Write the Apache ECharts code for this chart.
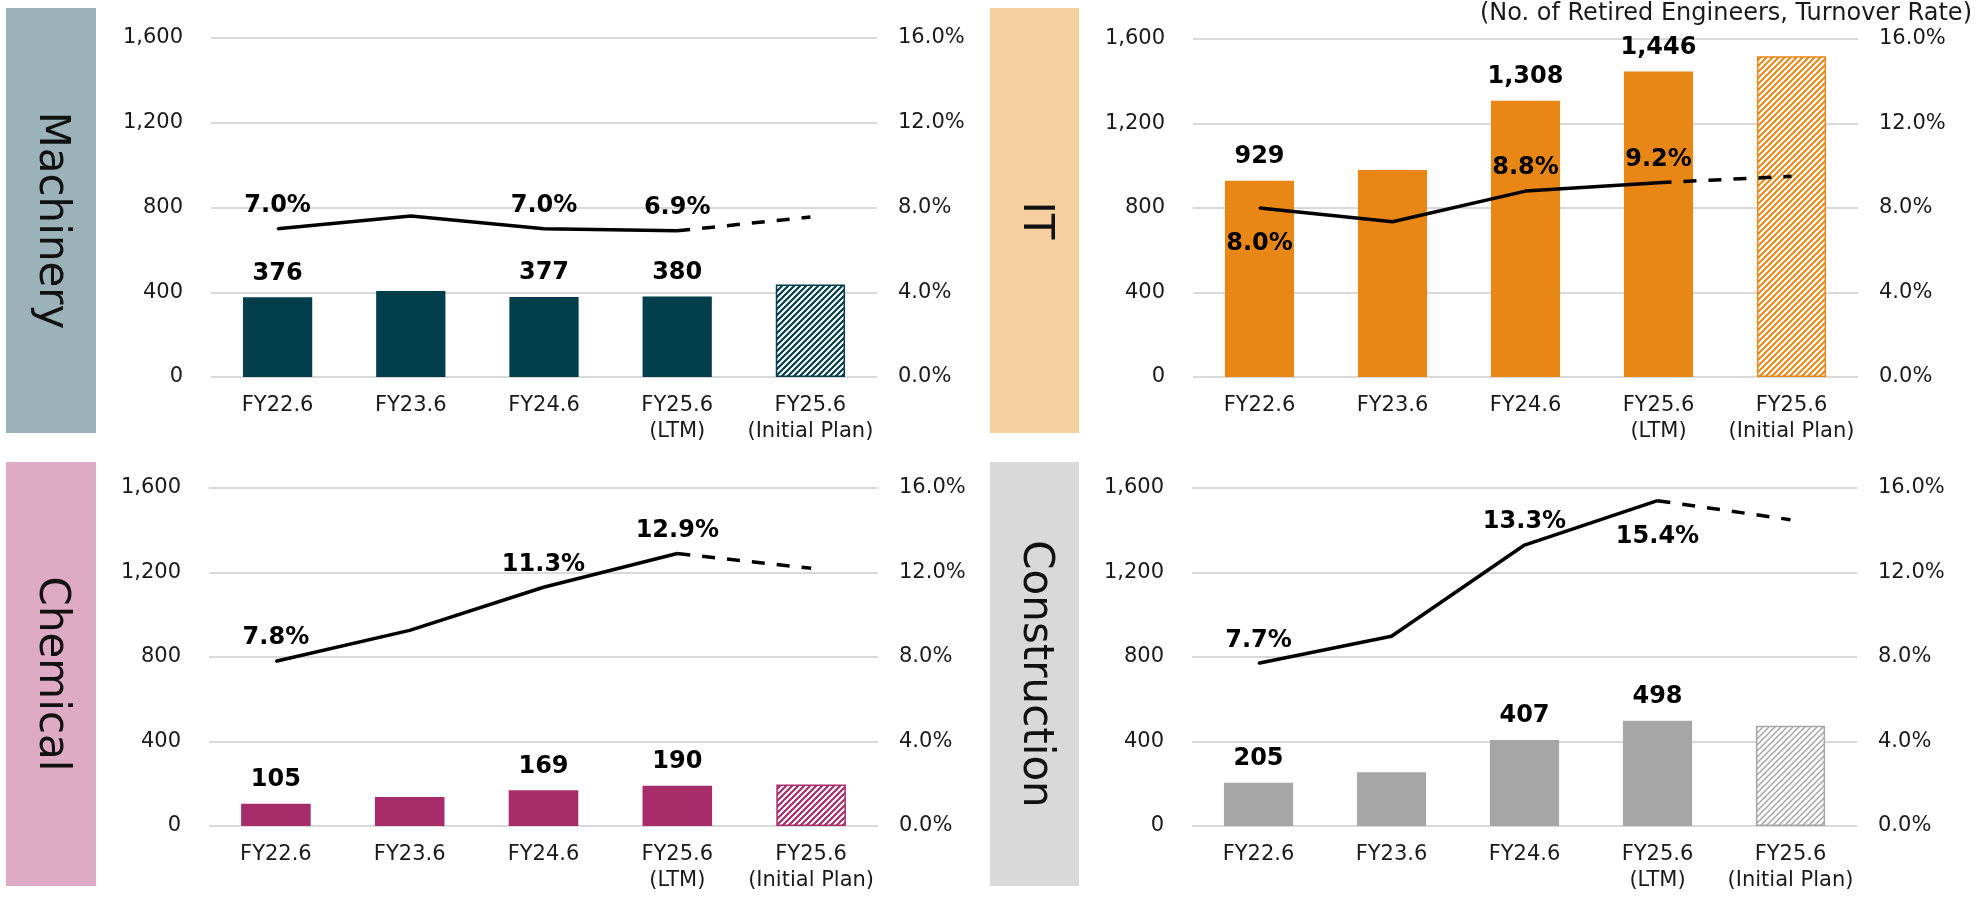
<!DOCTYPE html>
<html>
<head>
<meta charset="utf-8">
<script src="https://cdn.jsdelivr.net/npm/echarts@6/dist/echarts.min.js"></script>
<style>
  html, body { margin: 0; padding: 0; background: #fff; }
  #chart { width: 1985px; height: 898px; }
</style>
</head>
<body>
<div id="chart"></div>
<script>
var categories = ['FY22.6', 'FY23.6', 'FY24.6', 'FY25.6\n(LTM)', 'FY25.6\n(Initial Plan)'];
var countTicks = [0, 400, 800, 1200, 1600];
var rateTicks = [0, 4, 8, 12, 16];

var machineryRetired = [376, 406, 377, 380, 437];
var machineryRate = [7.0, 7.6, 7.0, 6.9, 7.55];
var itRetired = [929, 980, 1308, 1446, 1518];
var itRate = [8.0, 7.35, 8.8, 9.2, 9.5];
var chemicalRetired = [105, 137, 169, 190, 197];
var chemicalRate = [7.8, 9.26, 11.3, 12.9, 12.2];
var constructionRetired = [205, 255, 407, 498, 475];
var constructionRate = [7.7, 8.98, 13.3, 15.4, 14.5];

var labelled = [0, 2, 3];
var FONT = '"DejaVu Sans", Verdana, sans-serif';

function hatch(color, width) {
    var c = document.createElement('canvas');
    c.width = 6; c.height = 6;
    var ctx = c.getContext('2d');
    ctx.fillStyle = '#fff';
    ctx.fillRect(0, 0, 6, 6);
    ctx.strokeStyle = color;
    ctx.lineWidth = width;
    ctx.beginPath();
    ctx.moveTo(-1, 7); ctx.lineTo(7, -1);
    ctx.moveTo(-4, 4); ctx.lineTo(4, -4);
    ctx.moveTo(2, 10); ctx.lineTo(10, 2);
    ctx.stroke();
    return { image: c, repeat: 'repeat' };
}

var panels = [
    { name: 'Machinery', retired: machineryRetired, rate: machineryRate,
      bar: '#023F4A', box: '#9BB3B8', hatchW: 2.2,
      grid: { left: 211, top: 38, width: 666, height: 339 },
      rect: [6, 8, 90, 425], ratePos: ['top', 'top', 'top'] },
    { name: 'IT', retired: itRetired, rate: itRate,
      bar: '#E98716', box: '#F5CF9F', hatchW: 2,
      grid: { left: 1193, top: 39, width: 665, height: 338 },
      rect: [990, 8, 89, 425], ratePos: ['bottom', 'top', 'top'] },
    { name: 'Chemical', retired: chemicalRetired, rate: chemicalRate,
      bar: '#A72C69', box: '#DEAAC4', hatchW: 2.2,
      grid: { left: 209, top: 488, width: 669, height: 338 },
      rect: [6, 462, 90, 424], ratePos: ['top', 'top', 'top'] },
    { name: 'Construction', retired: constructionRetired, rate: constructionRate,
      bar: '#A6A6A6', box: '#D9D9D9', hatchW: 1.5,
      grid: { left: 1192, top: 488, width: 665, height: 338 },
      rect: [990, 462, 89, 424], ratePos: ['top', 'top', 'bottom'] }
];

var grids = [], xAxes = [], yAxes = [], series = [], graphics = [];

panels.forEach(function (p, k) {
    grids.push(p.grid);
    xAxes.push({
        type: 'category', gridIndex: k, data: categories,
        axisLine: { show: false }, axisTick: { show: false },
        axisLabel: { color: '#1a1a1a', fontFamily: FONT, fontSize: 21, lineHeight: 26, margin: 16, interval: 0 }
    });
    yAxes.push({
        type: 'value', gridIndex: k, min: countTicks[0], max: countTicks[countTicks.length - 1], interval: countTicks[1] - countTicks[0],
        axisLine: { show: false }, axisTick: { show: false },
        splitLine: { lineStyle: { color: '#D9D9D9', width: 2 } },
        axisLabel: { color: '#1a1a1a', fontFamily: FONT, fontSize: 21, margin: 28,
            formatter: function (v) { return v.toLocaleString('en-US'); } }
    });
    yAxes.push({
        type: 'value', gridIndex: k, position: 'right', min: rateTicks[0], max: rateTicks[rateTicks.length - 1], interval: rateTicks[1] - rateTicks[0],
        axisLine: { show: false }, axisTick: { show: false }, splitLine: { show: false },
        axisLabel: { color: '#1a1a1a', fontFamily: FONT, fontSize: 21, margin: 21,
            formatter: function (v) { return v.toFixed(1) + '%'; } }
    });

    var last = p.retired.length - 1;
    series.push({
        type: 'bar', xAxisIndex: k, yAxisIndex: 2 * k, barWidth: '52%',
        itemStyle: { color: p.bar },
        data: p.retired.map(function (v, i) {
            var item = { value: v };
            if (labelled.indexOf(i) >= 0) {
                item.label = { show: true, position: 'top', distance: 12,
                    fontFamily: FONT, fontSize: 24, fontWeight: 'bold', color: '#000',
                    formatter: function (d) { return d.value.toLocaleString('en-US'); } };
            }
            if (i === last) {
                item.itemStyle = { color: hatch(p.bar, p.hatchW), borderColor: p.bar, borderWidth: 1.5 };
            }
            return item;
        })
    });
    series.push({
        type: 'line', xAxisIndex: k, yAxisIndex: 2 * k + 1,
        symbol: 'circle', symbolSize: 2, itemStyle: { color: '#000' },
        lineStyle: { color: '#000', width: 3.5, join: 'round' },
        z: 5,
        data: p.rate.map(function (v, i) {
            if (i > 3) return '-';
            var item = { value: v };
            var j = labelled.indexOf(i);
            if (j >= 0) {
                var pos = p.ratePos[j];
                item.label = { show: true, position: pos, distance: pos === 'top' ? 10 : 23,
                    fontFamily: FONT, fontSize: 24, fontWeight: 'bold', color: '#000',
                    formatter: function (d) { return d.value.toFixed(1) + '%'; } };
            }
            return item;
        })
    });
    series.push({
        type: 'line', xAxisIndex: k, yAxisIndex: 2 * k + 1,
        symbol: 'none', z: 5,
        lineStyle: { color: '#000', width: 3.5, type: [13, 12] },
        data: p.rate.map(function (v, i) { return i >= 3 ? v : '-'; })
    });

    graphics.push({
        type: 'rect', shape: { x: p.rect[0], y: p.rect[1], width: p.rect[2], height: p.rect[3] },
        style: { fill: p.box }, silent: true
    });
    graphics.push({
        type: 'text', x: p.rect[0] + p.rect[2] / 2, y: p.rect[1] + p.rect[3] / 2,
        rotation: -Math.PI / 2,
        style: { text: p.name, fontFamily: FONT, fontSize: 42, fill: '#111',
            align: 'center', verticalAlign: 'middle' }, silent: true
    });
});

graphics.push({
    type: 'text', x: 1972, y: 14,
    style: { text: '(No. of Retired Engineers, Turnover Rate)', fontFamily: FONT, fontSize: 24,
        fill: '#1a1a1a', align: 'right', verticalAlign: 'middle' }
});

var chart = echarts.init(document.getElementById('chart'));
chart.setOption({
    animation: false,
    backgroundColor: '#fff',
    grid: grids,
    xAxis: xAxes,
    yAxis: yAxes,
    series: series,
    graphic: graphics
});
</script>
</body>
</html>
